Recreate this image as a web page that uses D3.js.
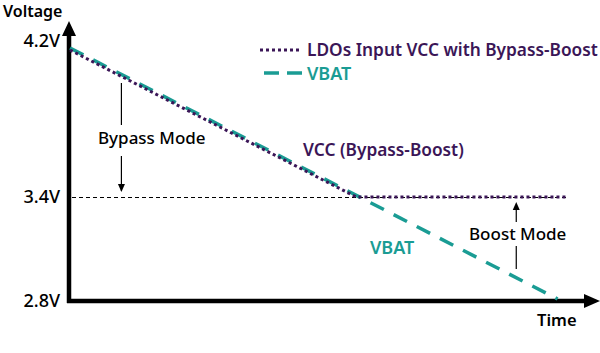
<!DOCTYPE html>
<html>
<head>
<meta charset="utf-8">
<script src="https://cdn.jsdelivr.net/npm/d3@7"></script>
<style>
  body { margin: 0; background: #fff; }
  text { font-family: "Noto Sans", sans-serif; }
</style>
</head>
<body>
<svg id="chart" width="600" height="353"></svg>
<script>
// data
var timeDomain = [0, 10];
var voltageTicks = [2.8, 3.4, 4.2];
var tickLabels = ['2.8V', '3.4V', '4.2V'];
var vbatTime = [0, 9.2];
var vbatVolt = [4.2, 2.8];
var vccTime = [0, 5.4, 9.4];
var vccVolt = [4.2, 3.4, 3.4];
var seriesNames = ['LDOs Input VCC with Bypass-Boost', 'VBAT'];
var bypassAt = 0.97, boostAt = 8.42;

var purple = '#3b1657', teal = '#1a9c94';

var svg = d3.select('#chart');

var x = d3.scaleLinear().domain(timeDomain).range([70, 600]);
// schematic axis: ticks are not evenly spaced
var y = d3.scaleLinear().domain(voltageTicks).range([301, 197, 50]);

var line = d3.line()
    .x(function(d) { return x(d[0]); })
    .y(function(d) { return y(d[1]); });

var vbat = d3.zip(vbatTime, vbatVolt);
var vcc = d3.zip(vccTime, vccVolt);

// axes with arrow heads
svg.append('line')
    .attr('x1', x(0) - 1).attr('x2', x(0) - 1)
    .attr('y1', y(2.8) + 2).attr('y2', 34)
    .attr('stroke', '#000').attr('stroke-width', 4.5);
svg.append('path')
    .attr('d', 'M' + (x(0) - 8) + ',36 L' + (x(0) - 1) + ',21 L' + (x(0) + 6) + ',36 Z')
    .attr('fill', '#000');

svg.append('line')
    .attr('x1', x(0) - 3).attr('x2', 586)
    .attr('y1', y(2.8)).attr('y2', y(2.8))
    .attr('stroke', '#000').attr('stroke-width', 4.5);
svg.append('path')
    .attr('d', 'M584,' + (y(2.8) - 7) + ' L600,' + y(2.8) + ' L584,' + (y(2.8) + 7) + ' Z')
    .attr('fill', '#000');

svg.selectAll('.tick-label')
    .data(voltageTicks).enter().append('text')
    .attr('class', 'tick-label')
    .attr('x', 60)
    .attr('y', function(d, i) { return y(d) + (i === 2 ? -3 : 6); })
    .attr('text-anchor', 'end')
    .attr('font-size', 18)
    .attr('font-weight', 500)
    .text(function(d, i) { return tickLabels[i]; });

svg.append('text').attr('x', 3).attr('y', 17)
    .attr('font-size', 16).attr('font-weight', 600)
    .text('Voltage');
svg.append('text').attr('x', 537).attr('y', 326)
    .attr('font-size', 16.5).attr('font-weight', 600)
    .text('Time');

// 3.4V reference
svg.append('line')
    .attr('x1', x(0) + 2).attr('x2', x(vccTime[2]))
    .attr('y1', y(3.4) + 0.5).attr('y2', y(3.4) + 0.5)
    .attr('stroke', '#000').attr('stroke-width', 1)
    .attr('stroke-dasharray', '4,3');

// series
svg.append('path')
    .datum(vbat)
    .attr('d', line)
    .attr('transform', 'translate(0,-2)')
    .attr('fill', 'none')
    .attr('stroke', teal).attr('stroke-width', 3.5)
    .attr('stroke-dasharray', '15,11');

svg.append('path')
    .datum(vcc)
    .attr('d', line)
    .attr('fill', 'none')
    .attr('stroke', purple).attr('stroke-width', 3)
    .attr('stroke-dasharray', '3,3');

// legend
svg.append('line')
    .attr('x1', 260).attr('x2', 302).attr('y1', 50).attr('y2', 50)
    .attr('stroke', purple).attr('stroke-width', 3).attr('stroke-dasharray', '3,3');
svg.append('text').attr('x', 307).attr('y', 56)
    .attr('font-size', 17.3).attr('font-weight', 600).attr('fill', purple)
    .text(seriesNames[0]);
svg.append('line')
    .attr('x1', 264).attr('x2', 302).attr('y1', 73).attr('y2', 73)
    .attr('stroke', teal).attr('stroke-width', 3.5).attr('stroke-dasharray', '15,8');
svg.append('text').attr('x', 307).attr('y', 80)
    .attr('font-size', 18).attr('font-weight', 600).attr('fill', teal)
    .text(seriesNames[1]);

// annotations
function vline(x0, y1, y2) {
    svg.append('line')
        .attr('x1', x0).attr('x2', x0).attr('y1', y1).attr('y2', y2)
        .attr('stroke', '#000').attr('stroke-width', 1.2);
}
function head(x0, yTip, dir) {
    svg.append('path')
        .attr('d', 'M' + (x0 - 3.5) + ',' + (yTip - dir * 8) + ' L' + x0 + ',' + yTip +
            ' L' + (x0 + 3.5) + ',' + (yTip - dir * 8) + ' Z')
        .attr('fill', '#000');
}

var bx = x(bypassAt);
vline(bx, 83, 125);
vline(bx, 156, y(3.4) - 6);
head(bx, y(3.4) - 5, 1);
svg.append('text').attr('x', 98).attr('y', 144)
    .attr('font-size', 17).attr('font-weight', 500)
    .text('Bypass Mode');

var sx = x(boostAt);
vline(sx, y(3.4) + 10, 222);
head(sx, y(3.4) + 5, -1);
vline(sx, 246, 269);
svg.append('text').attr('x', 469).attr('y', 240)
    .attr('font-size', 17).attr('font-weight', 500)
    .text('Boost Mode');

svg.append('text').attr('x', 303).attr('y', 156)
    .attr('font-size', 17.3).attr('font-weight', 600).attr('fill', purple)
    .text('VCC (Bypass-Boost)');
svg.append('text').attr('x', 370).attr('y', 254)
    .attr('font-size', 18).attr('font-weight', 600).attr('fill', teal)
    .text('VBAT');
</script>
</body>
</html>
